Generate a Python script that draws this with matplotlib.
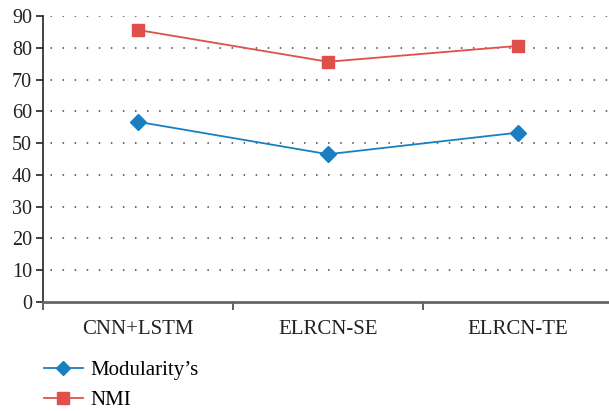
import matplotlib
matplotlib.use('Agg')
import matplotlib.pyplot as plt
from matplotlib.lines import Line2D

categories = ['CNN+LSTM', 'ELRCN-SE', 'ELRCN-TE']
modularity = [56.7, 46.5, 53.3]
nmi = [85.6, 75.6, 80.6]
y_ticks = list(range(0, 100, 10))

plt.rcParams['font.family'] = ['Liberation Serif', 'DejaVu Serif']

fig = plt.figure(figsize=(6.09, 4.11), dpi=100)
ax = fig.add_axes([43 / 609, 109 / 411, 570 / 609, 286 / 411])

blue = '#1a7fc0'
red = '#e0504a'
x = list(range(len(categories)))
ax.plot(x, modularity, color=blue, lw=1.3, marker='D', ms=8, mec=blue, mfc=blue)
ax.plot(x, nmi, color=red, lw=1.3, marker='s', ms=9, mec=red, mfc=red)

ax.set_xlim(-0.5, 2.5)
ax.set_ylim(0, 90)
ax.set_yticks(y_ticks)
ax.tick_params(axis='y', labelsize=14.5, length=5, width=1.2, direction='out', pad=3, colors='#222222')
ax.set_xticks([-0.5, 0.5, 1.5])
ax.set_xticklabels([])
ax.set_xticks(x, minor=True)
ax.set_xticklabels(categories, minor=True)
ax.tick_params(axis='x', which='major', length=6, width=1.2, color='#444444')
ax.tick_params(axis='x', which='minor', length=0, labelsize=15, pad=13, colors='#222222')

for v in y_ticks[1:]:
    ax.axhline(v, color='#444444', lw=1.1, ls=(3, (1, 6.9)), zorder=0)

ax.spines['top'].set_visible(False)
ax.spines['right'].set_visible(False)
ax.spines['left'].set_color('#222222')
ax.spines['left'].set_linewidth(1.2)
ax.spines['bottom'].set_color('#666666')
ax.spines['bottom'].set_linewidth(2)

handles = [
    Line2D([], [], color=blue, lw=1.3, marker='D', ms=7, mfc=blue, mec=blue),
    Line2D([], [], color=red, lw=1.3, marker='s', ms=8, mfc=red, mec=red),
]
fig.legend(handles, ["Modularity’s", 'NMI'], loc='upper left',
           bbox_to_anchor=(29 / 609, 1 - 346 / 411), frameon=False,
           fontsize=15, handlelength=1.9, handletextpad=0.35, labelspacing=0.5,
           borderpad=0.2)

fig.savefig('out.png', dpi=100)
